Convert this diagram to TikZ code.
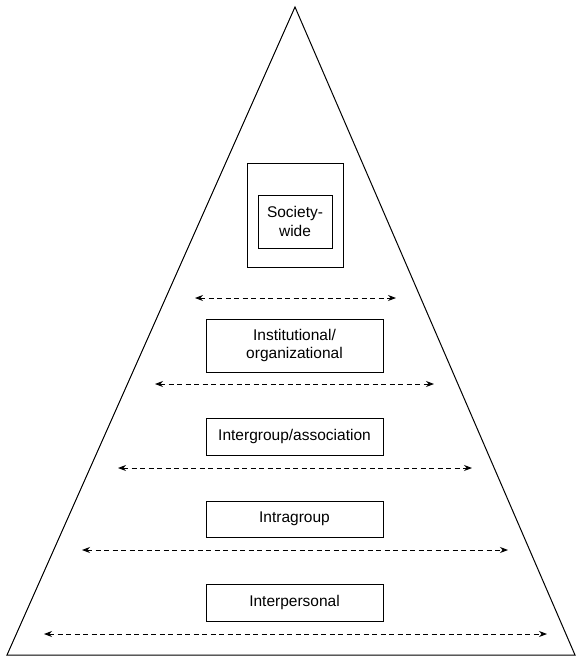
\documentclass[tikz,border=0pt]{standalone}
\usepackage{fontspec}
\setmainfont{Liberation Sans}
\usetikzlibrary{arrows.meta}

\tikzset{
  level/.style={draw,line width=1pt,minimum width=177pt,inner sep=0pt,outer sep=0pt,
    align=center,font=\fontsize{15.5}{18.7}\selectfont},
  spread/.style={line width=0.9pt,dash pattern=on 5pt off 3.5pt,
    {Stealth[length=8pt,width=6pt]}-{Stealth[length=8pt,width=6pt]}}
}
\providecommand{\Spread}[4]{
\coordinate (#1l) at (#2,#4);
\coordinate (#1r) at (#3,#4);
\draw[spread] (#1l) -- (#1r);
}

\begin{document}
\begin{tikzpicture}[x=1pt,y=-1pt]
\useasboundingbox (0,0) rectangle (576,656);
% pyramid
\coordinate (top) at (295,7);
\coordinate (baseL) at (7,655);
\coordinate (baseR) at (575,655);
\draw[line width=1pt,line join=miter] (baseL) -- (top) -- (baseR) -- cycle;

% levels
\node[level,minimum width=96pt,minimum height=104pt] (outer) at (295,215) {};
\node[level,minimum width=74pt,minimum height=53pt] (society) at (295,221.5) {Society-\\wide};
\node[level,minimum height=53pt] (inst) at (294.5,345.5) {Institutional/\\organizational};
\node[level,minimum height=37pt] (inter) at (294.5,436.5) {Intergroup/association};
\node[level,minimum height=36pt] (intra) at (294.5,519) {Intragroup};
\node[level,minimum height=37pt] (pers) at (294.5,602.5) {Interpersonal};

% spread arrows
\Spread{a}{195}{396}{298}
\Spread{b}{155}{434}{384}
\Spread{c}{118}{472}{468}
\Spread{d}{82}{508}{550}
\Spread{e}{44}{547}{634}
\end{tikzpicture}
\end{document}
